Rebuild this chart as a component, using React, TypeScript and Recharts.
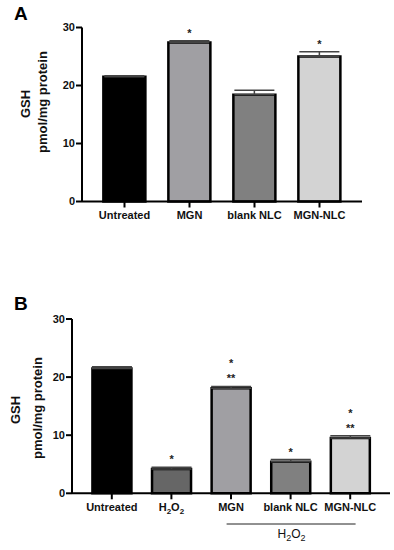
import { BarChart, Bar, XAxis, YAxis, ErrorBar, LabelList, Cell, Label } from "recharts";

// panel A
const catsA = ["Untreated", "MGN", "blank NLC", "MGN-NLC"];
const gshA = [21.5, 27.4, 18.4, 25.0];
const semA = [0.2, 0.3, 0.8, 0.8];
const sigA = ["", "*", "", "*"];
const fillA = ["#000000", "#a09fa3", "#808080", "#d3d3d3"];

// panel B
const catsB = ["Untreated", "H2O2", "MGN", "blank NLC", "MGN-NLC"];
const gshB = [21.5, 4.2, 18.1, 5.45, 9.5];
const semB = [0.3, 0.3, 0.3, 0.35, 0.4];
const sigB = ["", "*", "* **", "*", "* **"];
const fillB = ["#000000", "#666666", "#a09fa3", "#808080", "#d3d3d3"];

const yTicks = [0, 10, 20, 30];
const font = "'Liberation Sans', Arial, sans-serif";

const rows = (cats: string[], vals: number[], sems: number[], sigs: string[]) =>
  cats.map((c, i) => ({ name: c, gsh: vals[i], err: [0, sems[i]], sig: sigs[i] }));

const dataA = rows(catsA, gshA, semA, sigA);
const dataB = rows(catsB, gshB, semB, sigB);

function starLabel(vals: number[], sems: number[], sigs: string[]) {
  return (props: any) => {
    const { x, y, width, height, index } = props;
    const s = sigs[index];
    if (!s) return null;
    const perUnit = height / vals[index];
    const top = y - sems[index] * perUnit;
    const lines = s.split(" ");
    const n = lines.length;
    return (
      <g>
        {lines.map((l, i) => (
          <text
            key={i}
            x={x + width / 2}
            y={top - 4 - (n - 1 - i) * 15}
            textAnchor="middle"
            fontFamily={font}
            fontWeight="bold"
            fontSize={11}
            fill="#222"
          >
            {l}
          </text>
        ))}
      </g>
    );
  };
}

function XTick(props: any) {
  const { x, y, payload } = props;
  const v: string = payload.value;
  const common = { textAnchor: "middle" as const, fontFamily: font, fill: "#111" };
  if (v === "H2O2") {
    return (
      <text x={x} y={y + 9.5} {...common} fontWeight="bold" fontSize={11}>
        <tspan>H</tspan>
        <tspan dy={3} fontSize={8}>2</tspan>
        <tspan dy={-3}>O</tspan>
        <tspan dy={3} fontSize={8}>2</tspan>
      </text>
    );
  }
  return (
    <g>
      <text x={x} y={y + 9.5} {...common} fontWeight="bold" fontSize={11}>
        {v}
      </text>
      {props.group && v === "blank NLC" && (
        <g>
          <line x1={x - 64} x2={x + 65} y1={y + 22.7} y2={y + 22.7} stroke="#222" strokeWidth={1} />
          <text x={x + 1} y={y + 36.5} {...common} fontSize={12}>
            <tspan>H</tspan>
            <tspan dy={3} fontSize={9}>2</tspan>
            <tspan dy={-3}>O</tspan>
            <tspan dy={3} fontSize={9}>2</tspan>
          </text>
        </g>
      )}
    </g>
  );
}

function yTitle(gx: number, px: number, cy: number) {
  return () => (
    <g fontFamily={font} fontWeight="bold" fill="#111">
      <text x={gx} y={cy} transform={`rotate(-90 ${gx} ${cy})`} textAnchor="middle" dominantBaseline="central" fontSize={13}>
        GSH
      </text>
      <text x={px} y={cy - 2} transform={`rotate(-90 ${px} ${cy - 2})`} textAnchor="middle" dominantBaseline="central" fontSize={13}>
        pmol/mg protein
      </text>
    </g>
  );
}

const axisStyle = { stroke: "#000", strokeWidth: 2 };
const tickStyle = { fontFamily: font, fontWeight: "bold", fontSize: 11, fill: "#111" };

export default function App() {
  return (
    <div style={{ position: "absolute", left: 0, top: 0, width: 394, height: 550, background: "#fff" }}>
      <div style={{ position: "absolute", left: 14, top: 3, fontFamily: font, fontWeight: "bold", fontSize: 19 }}>A</div>
      <div style={{ position: "absolute", left: 14, top: 293, fontFamily: font, fontWeight: "bold", fontSize: 19 }}>B</div>

      <div style={{ position: "absolute", left: 0, top: 0 }}>
        <BarChart width={394} height={230} data={dataA} margin={{ top: 27.5, right: 32, bottom: 3.5, left: 2 }} barCategoryGap="17.5%">
          <XAxis dataKey="name" axisLine={axisStyle} tickLine={axisStyle} tickSize={6} height={25} padding={{ left: 10, right: 10 }} tick={<XTick />} interval={0} />
          <YAxis width={80} domain={[0, 30]} ticks={yTicks} axisLine={axisStyle} tickLine={axisStyle} tickSize={6} tickMargin={1} tick={tickStyle}>
            <Label content={yTitle(25, 42, 104)} />
          </YAxis>
          <Bar dataKey="gsh" stroke="#000" strokeWidth={2.5} isAnimationActive={false}>
            {dataA.map((d, i) => (
              <Cell key={d.name} fill={fillA[i]} />
            ))}
            <ErrorBar dataKey="err" direction="y" width={20} stroke="#444" strokeWidth={1.5} />
            <LabelList dataKey="sig" content={starLabel(gshA, semA, sigA)} />
          </Bar>
        </BarChart>
      </div>

      <div style={{ position: "absolute", left: 0, top: 270 }}>
        <BarChart width={394} height={280} data={dataB} margin={{ top: 49, right: 4, bottom: 6.7, left: 2 }} barCategoryGap="17.5%">
          <XAxis dataKey="name" axisLine={axisStyle} tickLine={axisStyle} tickSize={6} height={50} padding={{ left: 10, right: 10 }} tick={<XTick group />} interval={0} />
          <YAxis width={70} domain={[0, 30]} ticks={yTicks} axisLine={axisStyle} tickLine={axisStyle} tickSize={6} tickMargin={1} tick={tickStyle}>
            <Label content={yTitle(15, 37, 140)} />
          </YAxis>
          <Bar dataKey="gsh" stroke="#000" strokeWidth={2.5} isAnimationActive={false}>
            {dataB.map((d, i) => (
              <Cell key={d.name} fill={fillB[i]} />
            ))}
            <ErrorBar dataKey="err" direction="y" width={20} stroke="#444" strokeWidth={1.5} />
            <LabelList dataKey="sig" content={starLabel(gshB, semB, sigB)} />
          </Bar>
        </BarChart>
      </div>
    </div>
  );
}
